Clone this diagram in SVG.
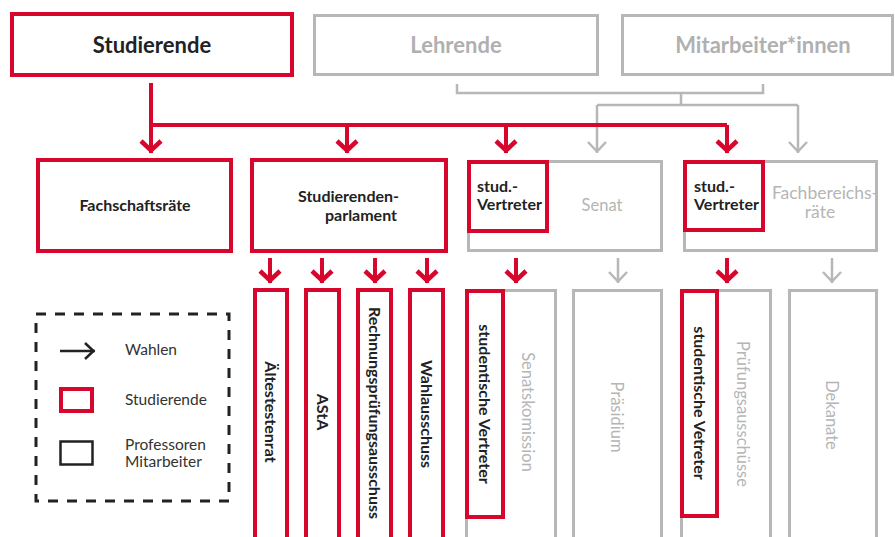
<svg xmlns="http://www.w3.org/2000/svg" width="895" height="537" viewBox="0 0 895 537">
<style>
text{font-family:Lato,"Open Sans","Liberation Sans",sans-serif;}
.r{fill:none;stroke:#d7062c;stroke-width:4;}
.g{fill:none;stroke:#b7b7b7;stroke-width:3;}
.rl{fill:none;stroke:#d7062c;stroke-width:4;marker-end:url(#ra);}
.gl{fill:none;stroke:#b7b7b7;stroke-width:2.5;marker-end:url(#ga);}
.rc{fill:none;stroke:#d7062c;stroke-width:4;}
.gc{fill:none;stroke:#b7b7b7;stroke-width:2.5;}
.tb{fill:#222;font-weight:700;}
.tg{fill:#b5b5b5;font-weight:400;}
.tgb{fill:#b0b0b0;font-weight:700;}
.tl{fill:#333;font-size:15.5px;}
.m{text-anchor:middle;}
.v{font-size:16px;}
.vg{font-size:16.5px;}
</style>
<defs>
<marker id="ra" viewBox="-16 -13 18 26" refX="0" refY="0" markerWidth="18" markerHeight="26" markerUnits="userSpaceOnUse" orient="auto">
<path d="M-12,-10 L-2.5,0 L-12,10" fill="none" stroke="#d7062c" stroke-width="4.5"/>
</marker>
<marker id="ga" viewBox="-16 -13 18 26" refX="0" refY="0" markerWidth="18" markerHeight="26" markerUnits="userSpaceOnUse" orient="auto">
<path d="M-11,-9 L-1.5,0 L-11,9" fill="none" stroke="#b7b7b7" stroke-width="2.5"/>
</marker>
<marker id="ka" viewBox="-16 -13 18 26" refX="0" refY="0" markerWidth="18" markerHeight="26" markerUnits="userSpaceOnUse" orient="auto">
<path d="M-10,-8 L-1.5,0 L-10,8" fill="none" stroke="#222" stroke-width="2.5"/>
</marker>
</defs>

<g id="connectors">
<path class="gc" d="M457,84 V93 H763 V84 M681,93 V105 M597,105 H798"/>
<path class="gl" d="M597,105 V153"/>
<path class="gl" d="M798,105 V153"/>
<path class="rc" d="M151,125 H727"/>
<path class="rl" d="M151,83 V153"/>
<path class="rl" d="M347,125 V153"/>
<path class="rl" d="M506,125 V153"/>
<path class="rl" d="M727,125 V153"/>
<path class="rl" d="M270,258 V283"/>
<path class="rl" d="M322,258 V283"/>
<path class="rl" d="M375,258 V283"/>
<path class="rl" d="M427,258 V283"/>
<path class="rl" d="M516,258 V283"/>
<path class="gl" d="M618,258 V283"/>
<path class="rl" d="M727,258 V283"/>
<path class="gl" d="M832,258 V283"/>
</g>

<g id="studierende">
<rect class="r" x="12" y="14" width="280" height="61"/>
<text class="tb m" x="152" y="53" font-size="22">Studierende</text>
</g>
<g id="lehrende">
<rect class="g" x="314.5" y="15.5" width="283" height="59"/>
<text class="tgb m" x="456" y="53" font-size="22">Lehrende</text>
</g>
<g id="mitarbeiter">
<rect class="g" x="622.5" y="15.5" width="270" height="59"/>
<text class="tgb m" x="763" y="53" font-size="22">Mitarbeiter*innen</text>
</g>

<g id="fachschaftsraete">
<rect class="r" x="38" y="160" width="193" height="91"/>
<text class="tb m" x="135" y="211" font-size="16">Fachschaftsräte</text>
</g>
<g id="studierendenparlament">
<rect class="r" x="252" y="160" width="194" height="91"/>
<text class="tb m" x="348.5" y="202" font-size="16">Studierenden-</text>
<text class="tb m" x="361" y="221" font-size="16">parlament</text>
</g>
<g id="senat">
<rect class="g" x="468.5" y="161.5" width="193" height="89"/>
<text class="tg m" x="602" y="211" font-size="16.5">Senat</text>
</g>
<g id="senat-stud">
<rect class="r" x="469" y="162" width="78" height="69"/>
<text class="tb" x="477" y="192" font-size="16">stud.-</text>
<text class="tb" x="477" y="210" font-size="16">Vertreter</text>
</g>
<g id="fachbereichsraete">
<rect class="g" x="684.5" y="161.5" width="192" height="89"/>
<text class="tg m" x="825" y="199" font-size="17.5">Fachbereichs-</text>
<text class="tg m" x="820" y="218" font-size="17.5">räte</text>
</g>
<g id="fachbereich-stud">
<rect class="r" x="685" y="162" width="78" height="68"/>
<text class="tb" x="694" y="192" font-size="16">stud.-</text>
<text class="tb" x="694" y="210" font-size="16">Vertreter</text>
</g>

<g id="aeltestenrat">
<rect class="r" x="255" y="290" width="32" height="260"/>
<text class="tb m v" transform="translate(271,412) rotate(90)" dy="0.35em">Ältestestenrat</text>
</g>
<g id="asta">
<rect class="r" x="306" y="290" width="33" height="260"/>
<text class="tb m v" transform="translate(322.5,412) rotate(90)" dy="0.35em">AStA</text>
</g>
<g id="rechnungspruefungsausschuss">
<rect class="r" x="358" y="290" width="33" height="260"/>
<text class="tb m v" transform="translate(374.5,413) rotate(90)" dy="0.35em">Rechnungsprüfungsausschuss</text>
</g>
<g id="wahlausschuss">
<rect class="r" x="410" y="290" width="33" height="260"/>
<text class="tb m v" transform="translate(426.5,414) rotate(90)" dy="0.35em">Wahlausschuss</text>
</g>

<g id="senatskomission">
<rect class="g" x="466.5" y="290.5" width="89" height="260"/>
<text class="tg m vg" transform="translate(528,412) rotate(90)" dy="0.35em">Senatskomission</text>
</g>
<g id="senatskomission-stud">
<rect class="r" x="467" y="291" width="36" height="226"/>
<text class="tb m v" transform="translate(485,404) rotate(90)" dy="0.35em">studentische Vertreter</text>
</g>
<g id="praesidium">
<rect class="g" x="573.5" y="290.5" width="88" height="260"/>
<text class="tg m vg" transform="translate(617,417) rotate(90)" dy="0.35em">Präsidium</text>
</g>
<g id="pruefungsausschuesse">
<rect class="g" x="681.5" y="290.5" width="89" height="260"/>
<text class="tg m vg" transform="translate(743,414) rotate(90)" dy="0.35em">Prüfungsausschüsse</text>
</g>
<g id="pruefungsausschuesse-stud">
<rect class="r" x="682" y="291" width="35" height="225"/>
<text class="tb m v" transform="translate(700,403) rotate(90)" dy="0.35em">studentische Vetreter</text>
</g>
<g id="dekanate">
<rect class="g" x="789.5" y="290.5" width="87" height="260"/>
<text class="tg m vg" transform="translate(832,415) rotate(90)" dy="0.35em">Dekanate</text>
</g>

<g id="legend">
<rect x="36" y="314" width="193" height="187" fill="none" stroke="#222" stroke-width="3" stroke-dasharray="10 9"/>
<path d="M60,351 H95" fill="none" stroke="#222" stroke-width="2.5" marker-end="url(#ka)"/>
<text class="tl" x="125" y="355">Wahlen</text>
<rect x="61" y="389" width="31" height="22" fill="none" stroke="#d7062c" stroke-width="4"/>
<text class="tl" x="125" y="405">Studierende</text>
<rect x="60.5" y="441.5" width="32" height="23" fill="none" stroke="#222" stroke-width="2.5"/>
<text class="tl" x="125" y="450">Professoren</text>
<text class="tl" x="125" y="467">Mitarbeiter</text>
</g>
</svg>
